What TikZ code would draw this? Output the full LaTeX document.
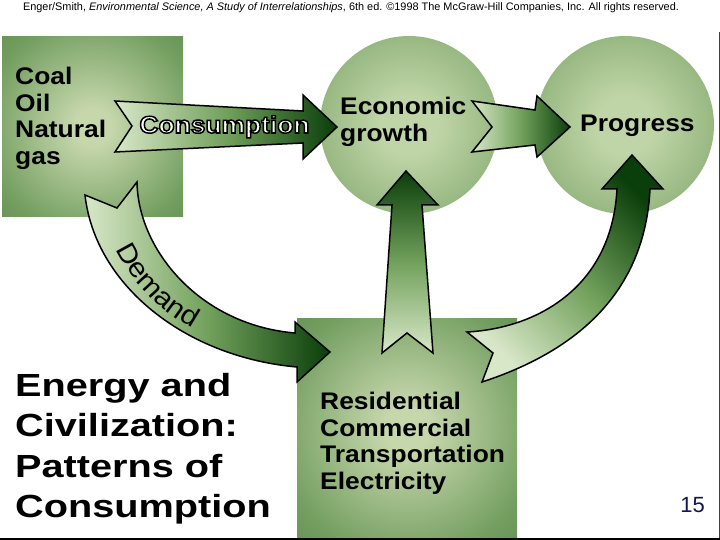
\documentclass[tikz,border=0pt]{standalone}
\usepackage{fontspec}
\setmainfont{Liberation Sans}
\newfontfamily\bodyfont[FakeStretch=1.1]{Liberation Sans}
\newfontfamily\titlefont[FakeStretch=1.24]{Liberation Sans}
\newfontfamily\curvefont[FakeStretch=1.1]{Liberation Sans}
\usetikzlibrary{decorations.text}
\definecolor{sqlight}{HTML}{C6D7AC}
\definecolor{sqmid}{HTML}{739E60}
\definecolor{sqdark}{HTML}{528146}
\definecolor{sqcorner}{HTML}{46753B}
\definecolor{balllight}{HTML}{C0D5A7}
\definecolor{ballmid}{HTML}{80A76C}
\definecolor{balldark}{HTML}{4F7D44}
\definecolor{alight}{HTML}{D8E7C8}
\definecolor{amid}{HTML}{72A15C}
\definecolor{adark}{HTML}{0A3E0A}
\definecolor{pagenum}{HTML}{15155A}
\pgfdeclareradialshading{boxglow}{\pgfpointorigin}{color(0bp)=(sqlight); color(5bp)=(sqlight); color(30bp)=(sqmid); color(48bp)=(sqdark); color(72bp)=(sqcorner)}
\pgfdeclareradialshading{ballglow}{\pgfpointorigin}{color(0bp)=(balllight); color(8bp)=(balllight); color(35bp)=(ballmid); color(50bp)=(balldark); color(60bp)=(balldark)}
\newcommand{\outlinetext}[1]{\special{pdf:literal direct 0 0 0 RG 2 Tr 1.5 w}#1\special{pdf:literal direct 0 Tr}}
\begin{document}
\begin{tikzpicture}[x=1pt,y=-1pt,
  blockarrow/.style={line width=1.5pt, draw=black, line join=miter, miter limit=10},
  bodytext/.style={font=\bodyfont\bfseries\fontsize{24}{26.5}\selectfont, inner sep=0pt, align=left},
  titletext/.style={font=\titlefont\bfseries\fontsize{32}{40.5}\selectfont, inner sep=0pt, align=left}]
\useasboundingbox (0,0) rectangle (720,540);
\fill[white] (0,0) rectangle (720,540);

% credit line
\node[anchor=base, font=\fontsize{10.9}{12}\selectfont, inner sep=0pt] (credit) at (351,11)
  {Enger/Smith, \textit{Environmental Science, A Study of Interrelationships}, 6th ed. ©1998 The McGraw-Hill Companies, Inc. All rights reserved.};

% squares and balls
\shade[shading=boxglow] (2,37) rectangle (183,217);
\shade[shading=boxglow] (297,318) rectangle (517,538);
\shade[shading=ballglow] (409,125) circle[radius=89];
\shade[shading=ballglow] (625,125) circle[radius=89];

% Consumption arrow
\shadedraw[blockarrow, left color=alight, right color=adark, middle color=amid]
  (115,101) -- (303,111) -- (303,95) -- (337,127) -- (303,159) -- (303,143) -- (115,152) -- (132,126) -- cycle;
% Economic growth -> Progress
\shadedraw[blockarrow, left color=alight, right color=adark, middle color=amid]
  (472,101) -- (535,110) -- (537,96) -- (570,127) -- (537,157) -- (535,145) -- (472,152) -- (492,127) -- cycle;
% sectors -> Economic growth
\shadedraw[blockarrow, bottom color=alight, top color=adark, middle color=amid]
  (406,171) -- (438,205) -- (422,205) -- (433,353) -- (407,333) -- (382,353) -- (392,205) -- (377,205) -- cycle;
% sectors -> Progress (curved)
\shadedraw[blockarrow, top color=adark, bottom color=alight, middle color=amid, shading angle=-45]
  (632,155) -- (663,189) -- (650,189) .. controls (645,290) and (580,350) .. (482,382)
  -- (493,353) -- (467,332) .. controls (540,328) and (612,285) .. (617,189) -- (602,189) -- cycle;
% Demand arrow
\shadedraw[blockarrow, left color=alight, right color=adark, middle color=amid]
  (85,195) -- (117,208) -- (137,182) .. controls (138,250) and (200,325) .. (295,333)
  -- (295,322) -- (330,352) -- (297,382) -- (297,367) .. controls (185,357) and (95,285) .. (85,195) -- cycle;
\path[decorate, decoration={text along path, text={|\curvefont\fontsize{27}{27}\selectfont|Demand}, text align=center}]
  (105,215) .. controls (115,270) and (160,320) .. (225,343);

% texts
\node[bodytext, anchor=north west] (fuels) at (15,67) {Coal\\Oil\\Natural\\gas};
\node[bodytext, anchor=north west] (econ) at (340,97) {Economic\\growth};
\node[bodytext, anchor=base west] (prog) at (580,132) {Progress};
\node[bodytext, anchor=base, text=white] (cons) at (224.5,133) {\outlinetext{Consumption}};
\node[bodytext, anchor=north west] (sectors) at (320,392) {Residential\\Commercial\\Transportation\\Electricity};
\node[titletext, anchor=north west] (title) at (15,373) {Energy and\\Civilization:\\Patterns of\\Consumption};
\node[anchor=base east, font=\fontsize{22}{22}\selectfont, text=pagenum, inner sep=0pt] (page) at (705,512) {15};

% slide frame
\draw[line width=1.5pt, black!75] (719.25,32) -- (719.25,540);
\draw[line width=2pt, black] (0,539) -- (720,539);
\end{tikzpicture}
\end{document}
